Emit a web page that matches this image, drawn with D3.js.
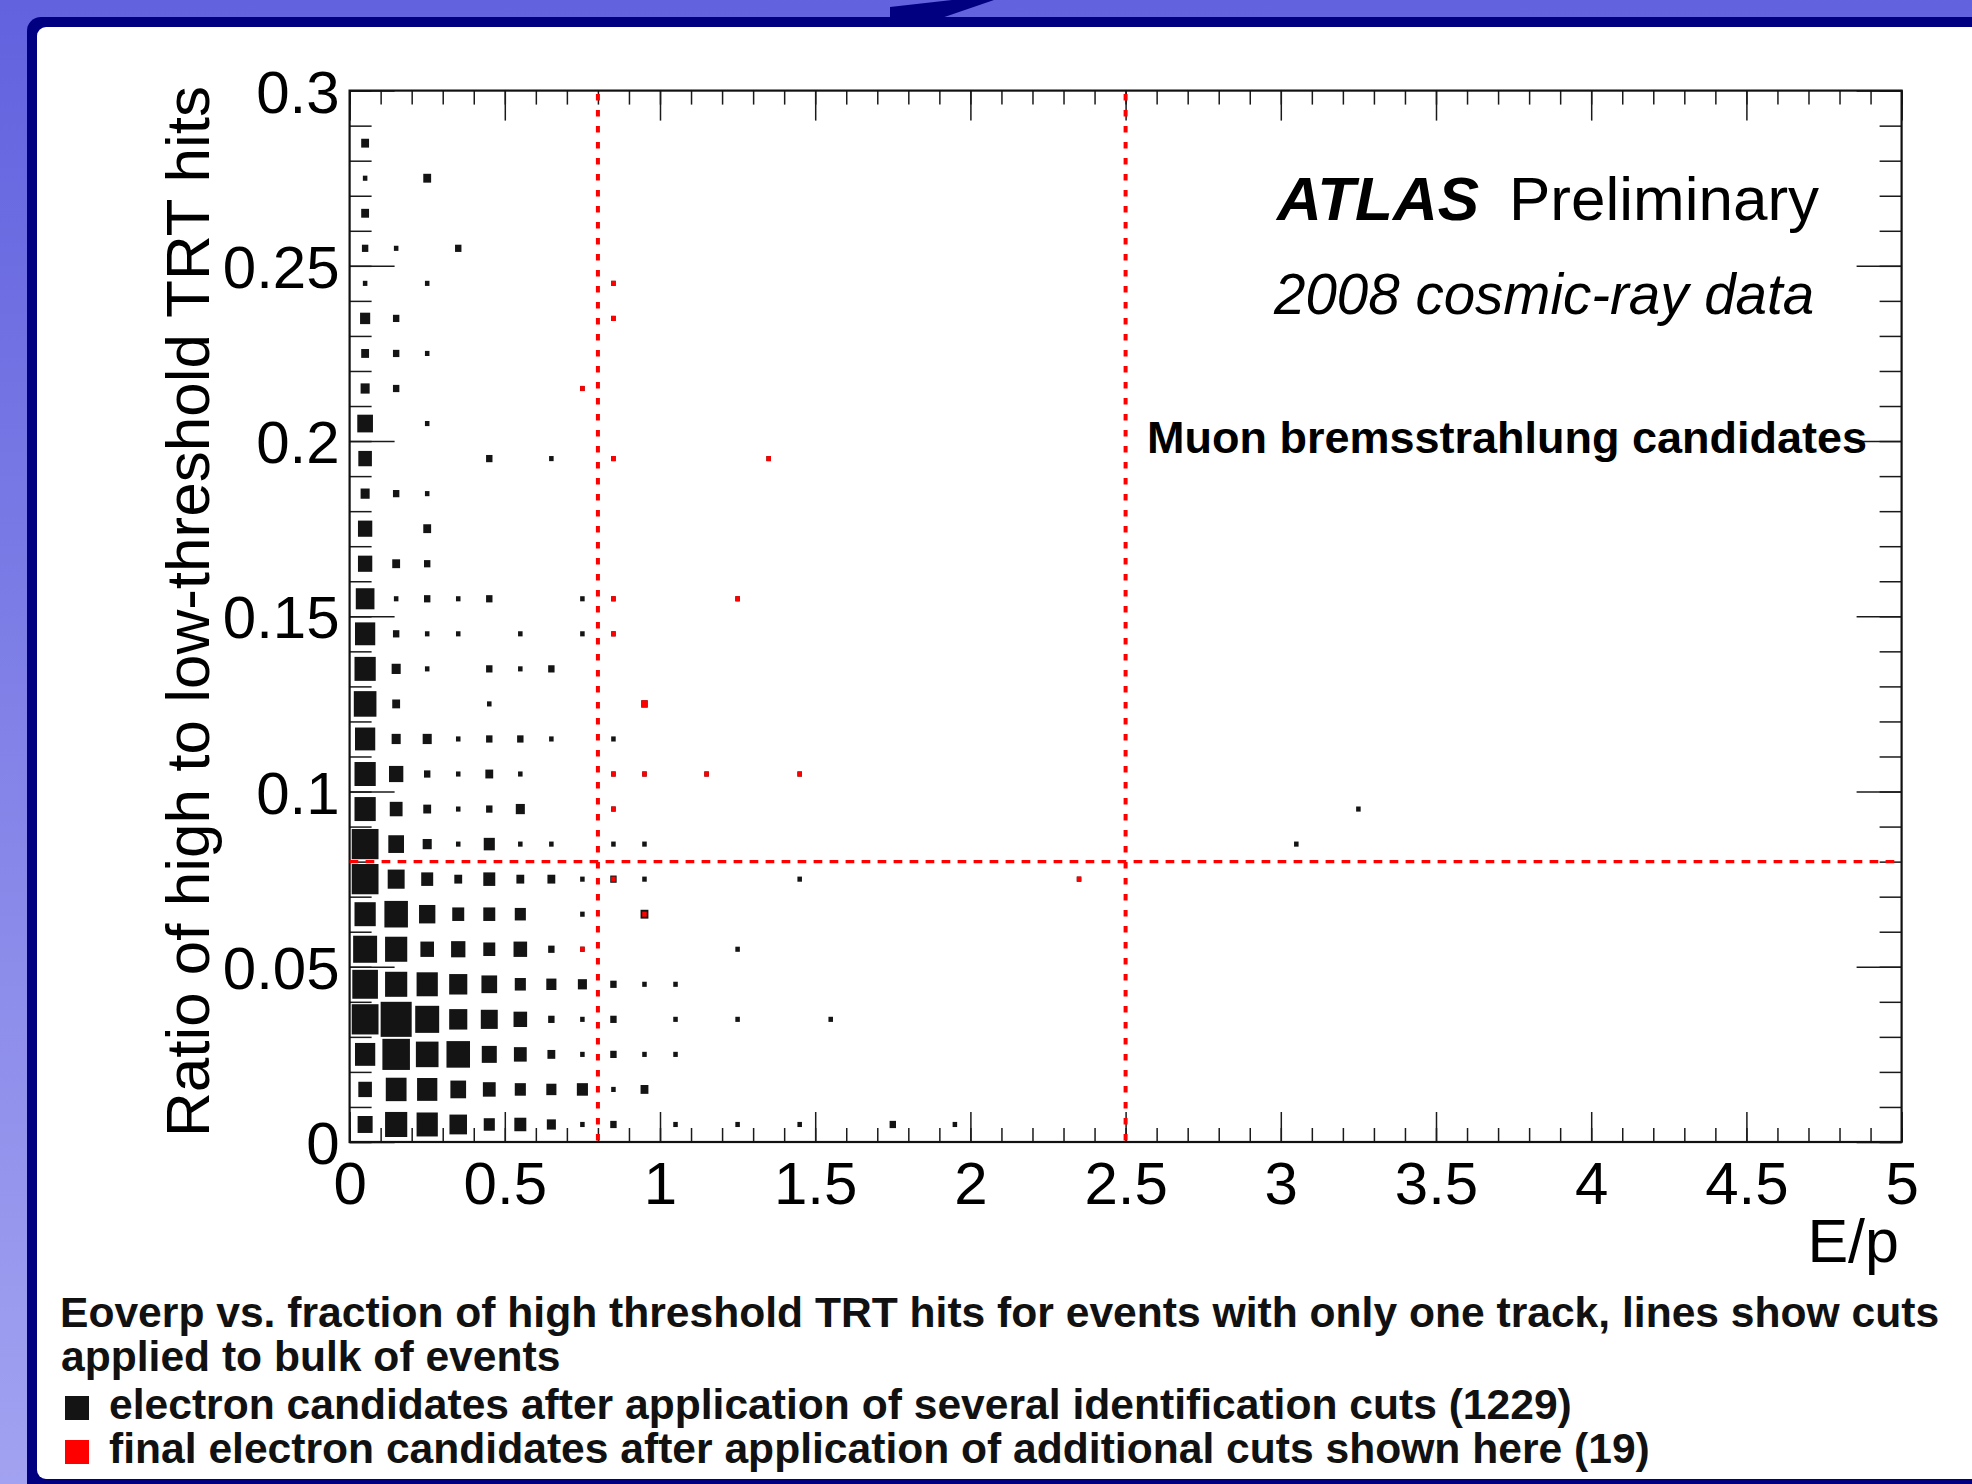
<!DOCTYPE html>
<html><head><meta charset="utf-8">
<script src="https://cdn.jsdelivr.net/npm/d3@7"></script>
<style>body{margin:0;background:#fff;} svg{display:block;}</style>
</head><body>
<svg id="chart" width="1972" height="1484"></svg>
<script>
// ---- data ----
const xMajorTicks = [0, 0.5, 1, 1.5, 2, 2.5, 3, 3.5, 4, 4.5, 5];
const yMajorTicks = [0, 0.05, 0.1, 0.15, 0.2, 0.25, 0.3];
const epCuts = [0.8, 2.5];        // vertical cut lines (E/p)
const ratioCuts = [0.08];         // horizontal cut line (HT/LT ratio)
const binWidthEp = 0.1, binWidthRatio = 0.01;

// [E/p bin centre, ratio bin centre, entries] : electron candidates (black)
const electronCells = [
 [0.05,0.285,3],
 [0.05,0.275,1],[0.25,0.275,3],
 [0.05,0.265,3],
 [0.05,0.255,2],[0.15,0.255,1],[0.35,0.255,2],
 [0.05,0.245,1],[0.25,0.245,1],[0.85,0.245,1],
 [0.05,0.235,5],[0.15,0.235,2],[0.85,0.235,1],
 [0.05,0.225,3],[0.15,0.225,2],[0.25,0.225,1],
 [0.05,0.215,4],[0.15,0.215,2],[0.75,0.215,1],
 [0.05,0.205,12],[0.25,0.205,1],
 [0.05,0.195,9],[0.45,0.195,2],[0.65,0.195,1],[0.85,0.195,1],[1.35,0.195,1],
 [0.05,0.185,4],[0.15,0.185,2],[0.25,0.185,1],
 [0.05,0.175,10],[0.25,0.175,3],
 [0.05,0.165,10],[0.15,0.165,3],[0.25,0.165,2],
 [0.05,0.155,17],[0.15,0.155,1],[0.25,0.155,2],[0.35,0.155,1],[0.45,0.155,2],[0.75,0.155,1],[0.85,0.155,1],[1.25,0.155,1],
 [0.05,0.145,20],[0.15,0.145,2],[0.25,0.145,1],[0.35,0.145,1],[0.55,0.145,1],[0.75,0.145,1],[0.85,0.145,1],
 [0.05,0.135,22],[0.15,0.135,4],[0.25,0.135,1],[0.45,0.135,2],[0.55,0.135,1],[0.65,0.135,2],
 [0.05,0.125,25],[0.15,0.125,3],[0.45,0.125,1],[0.95,0.125,2],
 [0.05,0.115,20],[0.15,0.115,4],[0.25,0.115,4],[0.35,0.115,1],[0.45,0.115,2],[0.55,0.115,2],[0.65,0.115,1],[0.85,0.115,1],
 [0.05,0.105,22],[0.15,0.105,10],[0.25,0.105,2],[0.35,0.105,1],[0.45,0.105,3],[0.55,0.105,1],[0.85,0.105,1],[0.95,0.105,1],[1.15,0.105,1],[1.45,0.105,1],
 [0.05,0.095,22],[0.15,0.095,8],[0.25,0.095,3],[0.35,0.095,1],[0.45,0.095,2],[0.55,0.095,4],[0.85,0.095,1],[3.25,0.095,1],
 [0.05,0.085,35],[0.15,0.085,12],[0.25,0.085,4],[0.35,0.085,1],[0.45,0.085,6],[0.55,0.085,1],[0.65,0.085,1],[0.85,0.085,1],[0.95,0.085,1],[3.05,0.085,1],
 [0.05,0.075,35],[0.15,0.075,14],[0.25,0.075,7],[0.35,0.075,3],[0.45,0.075,7],[0.55,0.075,3],[0.65,0.075,3],[0.75,0.075,1],[0.85,0.075,2],[0.95,0.075,1],[1.45,0.075,1],[2.35,0.075,1],
 [0.05,0.065,22],[0.15,0.065,27],[0.25,0.065,13],[0.35,0.065,7],[0.45,0.065,7],[0.55,0.065,6],[0.75,0.065,1],[0.95,0.065,3],
 [0.05,0.055,28],[0.15,0.055,24],[0.25,0.055,9],[0.35,0.055,10],[0.45,0.055,7],[0.55,0.055,9],[0.65,0.055,2],[0.75,0.055,1],[1.25,0.055,1],
 [0.05,0.045,32],[0.15,0.045,24],[0.25,0.045,22],[0.35,0.045,16],[0.45,0.045,12],[0.55,0.045,6],[0.65,0.045,5],[0.75,0.045,4],[0.85,0.045,2],[0.95,0.045,1],[1.05,0.045,1],
 [0.05,0.035,35],[0.15,0.035,47],[0.25,0.035,28],[0.35,0.035,16],[0.45,0.035,14],[0.55,0.035,9],[0.65,0.035,2],[0.75,0.035,1],[0.85,0.035,2],[1.05,0.035,1],[1.25,0.035,1],[1.55,0.035,1],
 [0.05,0.025,20],[0.15,0.025,37],[0.25,0.025,25],[0.35,0.025,27],[0.45,0.025,11],[0.55,0.025,8],[0.65,0.025,3],[0.75,0.025,1],[0.85,0.025,2],[0.95,0.025,1],[1.05,0.025,1],
 [0.05,0.015,9],[0.15,0.015,21],[0.25,0.015,20],[0.35,0.015,12],[0.45,0.015,8],[0.55,0.015,6],[0.65,0.015,5],[0.75,0.015,6],[0.85,0.015,1],[0.95,0.015,3],
 [0.05,0.005,11],[0.15,0.005,24],[0.25,0.005,22],[0.35,0.005,15],[0.45,0.005,6],[0.55,0.005,7],[0.65,0.005,4],[0.75,0.005,1],[0.85,0.005,2],[1.05,0.005,1],[1.25,0.005,1],[1.45,0.005,1],[1.75,0.005,2],[1.95,0.005,1]
];

// final electron candidates (red)
const finalCells = [
 [0.85,0.245,1],[0.85,0.235,1],[0.75,0.215,1],[0.85,0.195,1],[1.35,0.195,1],
 [0.85,0.155,1],[1.25,0.155,1],[0.85,0.145,1],[0.95,0.125,2],
 [0.85,0.105,1],[0.95,0.105,1],[1.15,0.105,1],[1.45,0.105,1],
 [0.85,0.095,1],[0.85,0.075,1],[2.35,0.075,1],[0.95,0.065,1],[0.75,0.055,1]
];
const maxEntries = 47;

// ---- drawing ----
const FONT = "'Liberation Sans', Arial, Helvetica, sans-serif";
const svg = d3.select('#chart');
const P = {left: 349.6, right: 1901.6, top: 90.6, bottom: 1142};

// slide background
const defs = svg.append('defs');
const grad = defs.append('linearGradient').attr('id','bg').attr('x1',0).attr('y1',0).attr('x2',0).attr('y2',1);
grad.append('stop').attr('offset','0%').attr('stop-color','#6262df');
grad.append('stop').attr('offset','100%').attr('stop-color','#a2a2f1');
svg.append('rect').attr('width',1972).attr('height',1484).attr('fill','url(#bg)');
svg.append('rect').attr('x',27).attr('y',17).attr('width',2000).attr('height',1500).attr('rx',14).attr('fill','#000080');
svg.append('rect').attr('x',37).attr('y',27).attr('width',2000).attr('height',1452).attr('rx',9).attr('fill','#ffffff');
svg.append('polygon').attr('points','952,0 994,0 943,17.5 890,17.5 890,7').attr('fill','#000080');

const x = d3.scaleLinear().domain([0,5]).range([P.left,P.right]);
const y = d3.scaleLinear().domain([0,0.3]).range([P.bottom,P.top]);
const size = d3.scaleSqrt().domain([0,maxEntries]).range([0,1]);
const halfW = (x(binWidthEp)-x(0))/2, halfH = (y(0)-y(binWidthRatio))/2;

function boxes(data, color, cls){
  svg.append('g').selectAll('rect.'+cls).data(data).join('rect')
    .attr('class',cls)
    .attr('x', d => x(d[0]) - halfW*size(d[2]))
    .attr('y', d => y(d[1]) - halfH*size(d[2]))
    .attr('width', d => 2*halfW*size(d[2]))
    .attr('height', d => 2*halfH*size(d[2]))
    .attr('fill', color);
}
boxes(electronCells, '#141414', 'e');
boxes(finalCells, '#ff0000', 'f');

// axes
function styleAxis(g){
  g.select('.domain').remove();
  g.selectAll('.tick line').attr('stroke','#1a1a1a').attr('stroke-width',1.5);
  g.selectAll('.tick text').attr('fill','#000');
  g.attr('font-family',FONT).attr('font-size',60);
}
svg.append('g').attr('transform',`translate(0,${P.bottom})`)
  .call(d3.axisBottom(x).tickValues(x.ticks(50)).tickSize(-14).tickFormat('')).call(styleAxis);
svg.append('g').attr('transform',`translate(0,${P.bottom})`)
  .call(d3.axisBottom(x).tickValues(xMajorTicks).tickSize(-30).tickPadding(19).tickFormat(d=>String(d))).call(styleAxis);
svg.append('g').attr('transform',`translate(0,${P.top})`)
  .call(d3.axisTop(x).tickValues(x.ticks(50)).tickSize(-14).tickFormat('')).call(styleAxis);
svg.append('g').attr('transform',`translate(0,${P.top})`)
  .call(d3.axisTop(x).tickValues(xMajorTicks).tickSize(-30).tickFormat('')).call(styleAxis);
svg.append('g').attr('transform',`translate(${P.left},0)`)
  .call(d3.axisLeft(y).tickValues(y.ticks(30)).tickSize(-22).tickFormat('')).call(styleAxis);
const yl = svg.append('g').attr('transform',`translate(${P.left},0)`)
  .call(d3.axisLeft(y).tickValues(yMajorTicks).tickSize(-45).tickPadding(10).tickFormat(d=>String(d))).call(styleAxis);
yl.selectAll('.tick text').attr('dy','0.36em');
svg.append('g').attr('transform',`translate(${P.right},0)`)
  .call(d3.axisRight(y).tickValues(y.ticks(30)).tickSize(-22).tickFormat('')).call(styleAxis);
svg.append('g').attr('transform',`translate(${P.right},0)`)
  .call(d3.axisRight(y).tickValues(yMajorTicks).tickSize(-45).tickFormat('')).call(styleAxis);

svg.append('rect').attr('x',P.left).attr('y',P.top).attr('width',P.right-P.left).attr('height',P.bottom-P.top)
  .attr('fill','none').attr('stroke','#111').attr('stroke-width',2.2);

// cut lines
svg.append('g').selectAll('line').data(epCuts).join('line')
  .attr('x1',d=>x(d)).attr('x2',d=>x(d)).attr('y1',y(0.3)).attr('y2',y(0))
  .attr('stroke','#ff0000').attr('stroke-width',4).attr('stroke-dasharray','6.5 9.5').attr('stroke-dashoffset',12.6);
svg.append('g').selectAll('line').data(ratioCuts).join('line')
  .attr('x1',x(0)).attr('x2',x(5)).attr('y1',d=>y(d)).attr('y2',d=>y(d))
  .attr('stroke','#ff0000').attr('stroke-width',3.3).attr('stroke-dasharray','8.7 7.3');

// titles
svg.append('text').attr('transform','translate(209,86) rotate(-90)').attr('text-anchor','end')
  .attr('font-family',FONT).attr('font-size',62).attr('fill','#000').text('Ratio of high to low-threshold TRT hits');
svg.append('text').attr('x',1899).attr('y',1262).attr('text-anchor','end')
  .attr('font-family',FONT).attr('font-size',61).attr('fill','#000').text('E/p');

svg.append('text').attr('x',1277).attr('y',220).attr('font-family',FONT).attr('font-size',62)
  .attr('font-weight','bold').attr('font-style','italic').attr('fill','#000').text('ATLAS');
svg.append('text').attr('x',1509).attr('y',220).attr('font-family',FONT).attr('font-size',62)
  .attr('fill','#000').text('Preliminary');
svg.append('text').attr('x',1274).attr('y',314).attr('font-family',FONT).attr('font-size',56.5)
  .attr('font-style','italic').attr('fill','#000').text('2008 cosmic-ray data');
svg.append('text').attr('x',1147).attr('y',453).attr('font-family',FONT).attr('font-size',45)
  .attr('font-weight','bold').attr('fill','#000').text('Muon bremsstrahlung candidates');

// caption
const cap = svg.append('g').attr('font-family',FONT).attr('font-size',42.6).attr('font-weight','bold').attr('fill','#111');
cap.append('text').attr('x',60).attr('y',1327).text('Eoverp vs. fraction of high threshold TRT hits for events with only one track, lines show cuts');
cap.append('text').attr('x',61).attr('y',1371).text('applied to bulk of events');
cap.append('text').attr('x',109).attr('y',1419).text('electron candidates after application of several identification cuts (1229)');
cap.append('text').attr('x',109).attr('y',1463).text('final electron candidates after application of additional cuts shown here (19)');
svg.append('rect').attr('x',65).attr('y',1396).attr('width',24).attr('height',24).attr('fill','#141414');
svg.append('rect').attr('x',65).attr('y',1440).attr('width',24).attr('height',24).attr('fill','#ff0000');
</script>
</body></html>
